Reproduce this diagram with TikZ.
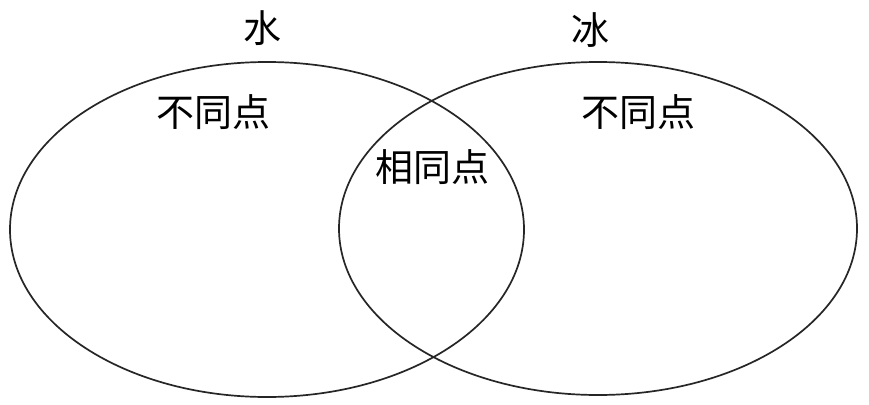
\documentclass[tikz,border=0pt]{standalone}
\usepackage{fontspec}
\newfontfamily\cjk{Noto Sans CJK SC}
\begin{document}
\begin{tikzpicture}[x=1pt,y=-1pt,
  ring/.style={draw=black!85,line width=1.7pt},
  lbl/.style={font=\cjk\fontsize{38}{38}\selectfont,inner sep=0pt,anchor=center}]
\useasboundingbox (0,0) rectangle (869,404);
\fill[white] (0,0) rectangle (869,404);
\draw[ring] (267,229.5) ellipse [x radius=257, y radius=167.5];
\draw[ring] (598,228.5) ellipse [x radius=259, y radius=166.5];
\node[lbl] (water) at (262,28) {水};
\node[lbl] (ice) at (590,30) {冰};
\node[lbl] (diffL) at (213,112) {不同点};
\node[lbl] (diffR) at (638,112) {不同点};
\node[lbl] (same) at (432,167) {相同点};
\end{tikzpicture}
\end{document}
